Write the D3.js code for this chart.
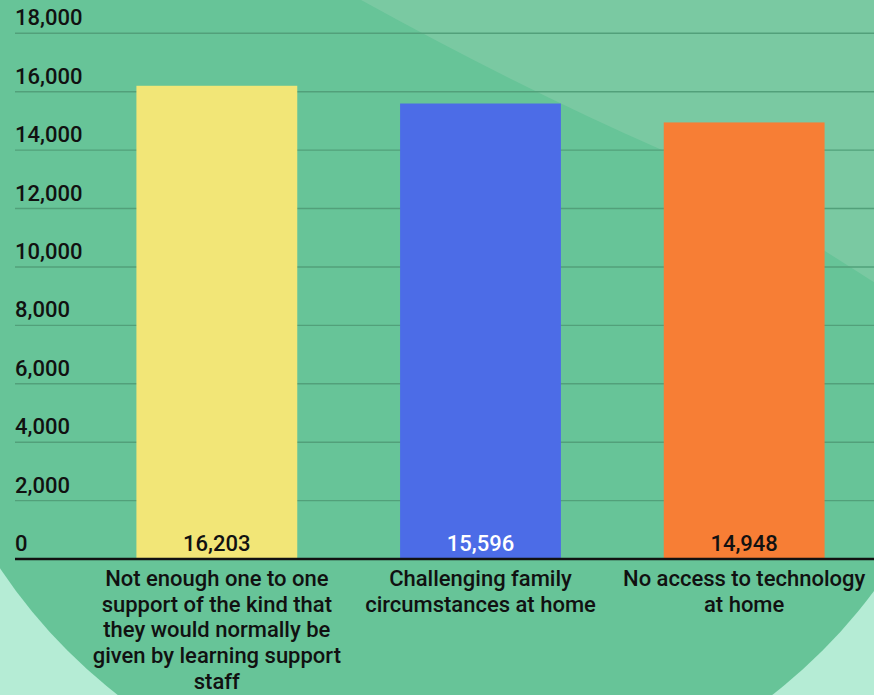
<!DOCTYPE html>
<html>
<head>
<meta charset="utf-8">
<script src="https://cdn.jsdelivr.net/npm/d3@7"></script>
<style>
  html, body { margin: 0; padding: 0; background: #b5ecd5; }
  svg { display: block; }
  text { font-family: Roboto, "Noto Sans", sans-serif; font-weight: 500; }
</style>
</head>
<body>
<script>
const categories = [
  "Not enough one to one support of the kind that they would normally be given by learning support staff",
  "Challenging family circumstances at home",
  "No access to technology at home"
];
const categoryLines = [
  ["Not enough one to one", "support of the kind that", "they would normally be", "given by learning support", "staff"],
  ["Challenging family", "circumstances at home"],
  ["No access to technology", "at home"]
];
const values = [16203, 15596, 14948];
const valueLabels = ["16,203", "15,596", "14,948"];
const barColors = ["#f2e677", "#4c6ce7", "#f77e35"];
const labelColors = ["#111111", "#ffffff", "#111111"];
const yTicks = [0, 2000, 4000, 6000, 8000, 10000, 12000, 14000, 16000, 18000];

const W = 874, H = 695;
const FS = 22;
const svg = d3.select("body").append("svg").attr("width", W).attr("height", H);

// Background decoration
svg.append("rect").attr("width", W).attr("height", H).attr("fill", "#b5ecd5");
svg.append("circle").attr("cx", 445).attr("cy", 273).attr("r", 534).attr("fill", "#67c498");
svg.append("path")
  .attr("d", "M 352 -5 Q 520 88 662 150 Q 780 222 880 286 L 880 -5 Z")
  .attr("fill", "#7ac9a2");

const y = d3.scaleLinear().domain([0, 18000]).range([559, 33.3]);
const x = d3.scaleBand().domain(categories).range([85, 876]).paddingInner(0.39).paddingOuter(0.195);

// Gridlines
svg.append("g").selectAll("line").data(yTicks.filter(d => d > 0)).join("line")
  .attr("x1", 15).attr("x2", W)
  .attr("y1", d => y(d)).attr("y2", d => y(d))
  .attr("stroke", "#52a07a").attr("stroke-width", 1.4);

// Y tick labels
svg.append("g").selectAll("text").data(yTicks).join("text")
  .attr("x", 15).attr("y", d => y(d) - 8)
  .attr("font-size", FS).attr("fill", "#111")
  .text(d => d3.format(",")(d));

// Bars
svg.append("g").selectAll("rect").data(values).join("rect")
  .attr("x", (d, i) => x(categories[i]))
  .attr("width", x.bandwidth())
  .attr("y", d => y(d))
  .attr("height", d => y(0) - y(d))
  .attr("fill", (d, i) => barColors[i]);

// Bar value labels
svg.append("g").selectAll("text").data(values).join("text")
  .attr("x", (d, i) => x(categories[i]) + x.bandwidth() / 2)
  .attr("y", y(0) - 8.5)
  .attr("text-anchor", "middle")
  .attr("font-size", FS)
  .attr("fill", (d, i) => labelColors[i])
  .text((d, i) => valueLabels[i]);

// Baseline axis
svg.append("line")
  .attr("x1", 15).attr("x2", W)
  .attr("y1", y(0)).attr("y2", y(0))
  .attr("stroke", "#111").attr("stroke-width", 2.6);

// Category labels
const cat = svg.append("g");
categories.forEach((c, i) => {
  const cx = x(c) + x.bandwidth() / 2;
  const t = cat.append("text")
    .attr("x", cx)
    .attr("y", 586)
    .attr("text-anchor", "middle")
    .attr("font-size", FS)
    .attr("fill", "#111");
  categoryLines[i].forEach((ln, j) => {
    t.append("tspan").attr("x", cx).attr("y", 586 + j * 25.7).text(ln);
  });
});
</script>
</body>
</html>
